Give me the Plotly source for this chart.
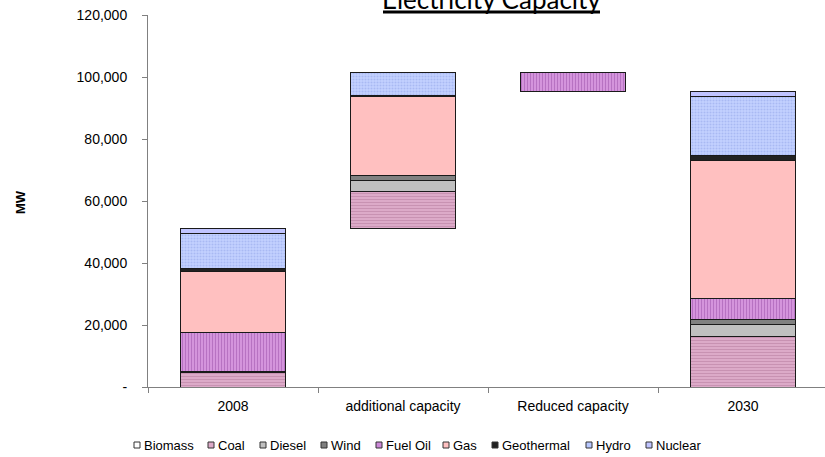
import plotly.graph_objects as go

categories = ["2008", "additional capacity", "Reduced capacity", "2030"]
series_names = ["Biomass", "Coal", "Diesel", "Wind", "Fuel Oil", "Gas", "Geothermal", "Hydro", "Nuclear"]

biomass = [0, 0, 0, 0]
coal = [4600, 11800, 0, 16200]
diesel = [400, 3500, 0, 4000]
wind = [0, 1700, 0, 1600]
fuel_oil = [12600, 0, 6200, 6600]
gas = [19600, 25400, 0, 44800]
geothermal = [900, 300, 0, 1400]
hydro = [11500, 7600, 0, 19000]
nuclear = [1600, 0, 0, 1700]

y_tickvals = [0, 20000, 40000, 60000, 80000, 100000, 120000]
y_ticktext = ["-", "20,000", "40,000", "60,000", "80,000", "100,000", "120,000"]

series = [biomass, coal, diesel, wind, fuel_oil, gas, geothermal, hydro, nuclear]

# invisible base for waterfall-style bars
total_2008 = sum(s[0] for s in series)
total_add = sum(s[1] for s in series)
base = [0, total_2008, total_2008 + total_add - fuel_oil[2], 0]

styles = {
    "Biomass": dict(color="#ffffff"),
    "Coal": dict(color="#dcaac8", pattern=dict(shape="-", fgcolor="#b47a9c", bgcolor="#dcaac8", size=3, solidity=0.35)),
    "Diesel": dict(color="#c0c0c0"),
    "Wind": dict(color="#808080"),
    "Fuel Oil": dict(color="#cc88d8", pattern=dict(shape="|", fgcolor="#9a4fa8", bgcolor="#d494dc", size=3, solidity=0.35)),
    "Gas": dict(color="#ffc0c0"),
    "Geothermal": dict(color="#222222"),
    "Hydro": dict(color="#b8c8ff", pattern=dict(shape=".", fgcolor="#8ea0e8", bgcolor="#c4d2ff", size=3, solidity=0.4)),
    "Nuclear": dict(color="#c0c4ff"),
}

W, H = 825, 457
plot_left, plot_right, plot_top, plot_bottom = 148, 825, 15, 387
pw, ph = plot_right - plot_left, plot_bottom - plot_top
cat_px = 170
x_hi = -0.5 + pw / cat_px


def px_x(x):
    return (x - plot_left) / pw


def px_y(y):
    return (plot_bottom - y) / ph


fig = go.Figure()
fig.add_trace(go.Bar(x=categories, y=base, marker=dict(color="rgba(0,0,0,0)", line=dict(width=0)),
                     showlegend=False, hoverinfo="skip"))
for name, vals in zip(series_names, series):
    st = styles[name]
    marker = dict(color=st["color"], line=dict(color="#1a1a1a", width=1))
    if "pattern" in st:
        marker["pattern"] = st["pattern"]
    fig.add_trace(go.Bar(x=categories, y=vals, name=name, marker=marker, showlegend=False))

# custom compact legend (swatch + label) at the bottom
legend_left_px = [134, 208, 260, 321, 376, 443, 492, 586, 646]
legend_y_px = 445
shapes = []
annotations = []
for name, lx in zip(series_names, legend_left_px):
    shapes.append(dict(type="rect", xref="paper", yref="paper",
                       x0=px_x(lx), x1=px_x(lx + 6), y0=px_y(legend_y_px + 3), y1=px_y(legend_y_px - 3),
                       fillcolor=styles[name]["color"], line=dict(color="#333333", width=1)))
    annotations.append(dict(text=name, xref="paper", yref="paper", x=px_x(lx + 8), y=px_y(legend_y_px),
                            xanchor="left", yanchor="middle", showarrow=False,
                            font=dict(size=13, color="#000000")))

# title with thick underline
annotations.append(dict(text="Electricity Capacity", xref="paper", yref="paper",
                        x=px_x(491), y=px_y(17), xanchor="center", yanchor="bottom", showarrow=False,
                        font=dict(family="Lato, Open Sans, sans-serif", size=26, color="#000000")))
shapes.append(dict(type="line", xref="paper", yref="paper", x0=px_x(383), x1=px_x(600),
                   y0=px_y(12), y1=px_y(12), line=dict(color="#000000", width=3)))

# y-axis title
annotations.append(dict(text="<b>MW</b>", xref="paper", yref="paper", x=px_x(20), y=px_y(202),
                        xanchor="center", yanchor="middle", textangle=-90, showarrow=False,
                        font=dict(size=13, color="#000000")))

fig.update_layout(
    barmode="stack",
    bargap=0.38,
    width=W, height=H,
    margin=dict(l=plot_left, r=W - plot_right, t=plot_top, b=H - plot_bottom, autoexpand=False),
    paper_bgcolor="white", plot_bgcolor="white",
    font=dict(family="Liberation Sans, Arial, sans-serif", size=14, color="#000000"),
    showlegend=False,
    xaxis=dict(range=[-0.5, x_hi], showline=True, linecolor="#808080", linewidth=1,
               ticks="outside", tickson="boundaries", ticklen=5, tickcolor="#808080",
               showgrid=False, tickfont=dict(size=14), ticklabelstandoff=6),
    yaxis=dict(range=[0, 120000], tickvals=y_tickvals, ticktext=y_ticktext,
               showline=True, linecolor="#808080", linewidth=1, ticks="outside", ticklen=5,
               tickcolor="#808080", showgrid=False, zeroline=False, tickfont=dict(size=14),
               ticklabelstandoff=12),
    shapes=shapes,
    annotations=annotations,
)

fig.write_html("out.html", config={"displayModeBar": False},
               post_script="document.body.style.margin='0';document.body.style.padding='0';")
